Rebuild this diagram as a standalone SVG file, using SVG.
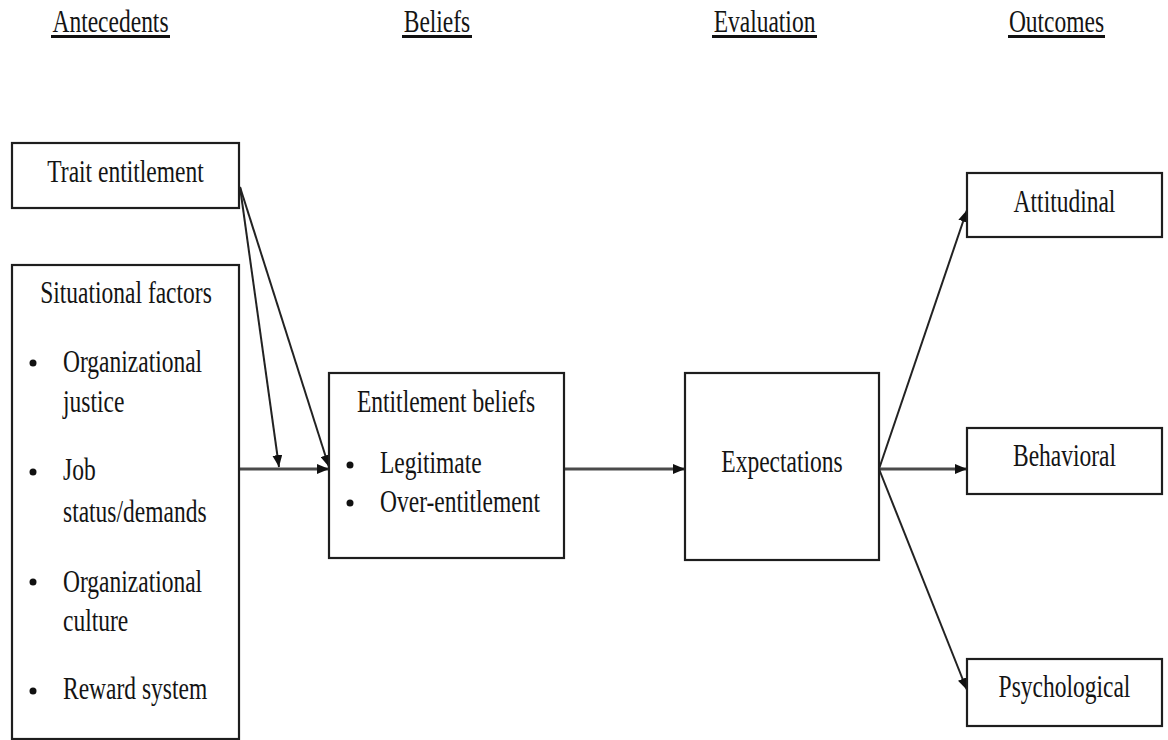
<svg xmlns="http://www.w3.org/2000/svg" width="1168" height="740" viewBox="0 0 1168 740">
  <style>
    .t { font-family: "Liberation Serif", "Times New Roman", serif; font-size: 23.5px; fill: #141414; }
    .m { text-anchor: middle; }
    .box { fill: #ffffff; stroke: #1e1e1e; stroke-width: 2.2; }
    .ul { stroke: #111; stroke-width: 3; }
    .c { stroke: #222; stroke-width: 2; fill: none; }
    .h { stroke: #4a4a4a; stroke-width: 3; fill: none; }
    .dot { fill: #111; }
  </style>
  <defs>
    <marker id="arr" viewBox="0 0 12 10" refX="12" refY="5" markerWidth="12" markerHeight="10" markerUnits="userSpaceOnUse" orient="auto">
      <path d="M0,0 L12,5 L0,10 z" fill="#111"/>
    </marker>
  </defs>
  <rect width="1168" height="740" fill="#ffffff"/>

  <g id="headers">
    <text class="t m" transform="translate(110.5,32) scale(1,1.37)">Antecedents</text>
    <line class="ul" x1="51" y1="36.5" x2="170" y2="36.5"/>
    <text class="t m" transform="translate(437,32) scale(1,1.37)">Beliefs</text>
    <line class="ul" x1="402" y1="36.5" x2="472" y2="36.5"/>
    <text class="t m" transform="translate(764.5,32) scale(1,1.37)">Evaluation</text>
    <line class="ul" x1="712" y1="36.5" x2="817" y2="36.5"/>
    <text class="t m" transform="translate(1056.5,32) scale(1,1.37)">Outcomes</text>
    <line class="ul" x1="1008" y1="36.5" x2="1105" y2="36.5"/>
  </g>

  <g id="connectors">
    <line class="h" x1="239" y1="469" x2="329" y2="469" marker-end="url(#arr)"/>
    <line class="c" x1="240" y1="187" x2="279" y2="467" marker-end="url(#arr)"/>
    <line class="c" x1="240" y1="187" x2="329" y2="467" marker-end="url(#arr)"/>
    <line class="h" x1="564" y1="469" x2="685" y2="469" marker-end="url(#arr)"/>
    <line class="c" x1="879" y1="469" x2="967" y2="210" marker-end="url(#arr)"/>
    <line class="h" x1="879" y1="469" x2="967" y2="469" marker-end="url(#arr)"/>
    <line class="c" x1="879" y1="469" x2="967" y2="690" marker-end="url(#arr)"/>
  </g>

  <g id="trait-entitlement">
    <rect class="box" x="12" y="143" width="227" height="65"/>
    <text class="t m" transform="translate(125.5,182) scale(1,1.37)">Trait entitlement</text>
  </g>

  <g id="situational-factors">
    <rect class="box" x="12" y="265" width="227" height="474"/>
    <text class="t m" transform="translate(126,303) scale(1,1.37)">Situational factors</text>
    <circle class="dot" cx="33" cy="363" r="3.5"/>
    <text class="t" transform="translate(63,372) scale(1,1.37)">Organizational</text>
    <text class="t" transform="translate(63,412) scale(1,1.37)">justice</text>
    <circle class="dot" cx="33" cy="472" r="3.5"/>
    <text class="t" transform="translate(63,480) scale(1,1.37)">Job</text>
    <text class="t" transform="translate(63,522) scale(1,1.37)">status/demands</text>
    <circle class="dot" cx="33" cy="582" r="3.5"/>
    <text class="t" transform="translate(63,592) scale(1,1.37)">Organizational</text>
    <text class="t" transform="translate(63,631) scale(1,1.37)">culture</text>
    <circle class="dot" cx="33" cy="691" r="3.5"/>
    <text class="t" transform="translate(63,699) scale(1,1.37)">Reward system</text>
  </g>

  <g id="entitlement-beliefs">
    <rect class="box" x="329" y="373" width="235" height="185"/>
    <text class="t m" transform="translate(446,412) scale(1,1.37)">Entitlement beliefs</text>
    <circle class="dot" cx="350" cy="465" r="3.5"/>
    <text class="t" transform="translate(380,473) scale(1,1.37)">Legitimate</text>
    <circle class="dot" cx="350" cy="503" r="3.5"/>
    <text class="t" transform="translate(380,512) scale(1,1.37)">Over-entitlement</text>
  </g>

  <g id="expectations">
    <rect class="box" x="685" y="373" width="194" height="187"/>
    <text class="t m" transform="translate(782,472) scale(1,1.37)">Expectations</text>
  </g>

  <g id="attitudinal">
    <rect class="box" x="967" y="173" width="195" height="64"/>
    <text class="t m" transform="translate(1064.5,212) scale(1,1.37)">Attitudinal</text>
  </g>

  <g id="behavioral">
    <rect class="box" x="967" y="428" width="195" height="66"/>
    <text class="t m" transform="translate(1064.5,466) scale(1,1.37)">Behavioral</text>
  </g>

  <g id="psychological">
    <rect class="box" x="967" y="659" width="195" height="67"/>
    <text class="t m" transform="translate(1064.5,697) scale(1,1.37)">Psychological</text>
  </g>
</svg>
